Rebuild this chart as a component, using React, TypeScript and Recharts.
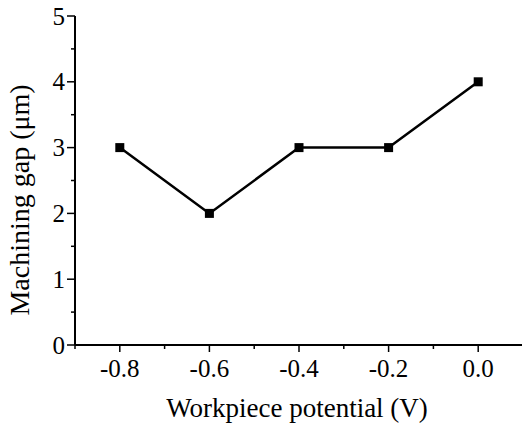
import React from "react";
import { LineChart, Line, XAxis, YAxis } from "recharts";

// values
const potentials = [-0.8, -0.6, -0.4, -0.2, 0.0];
const gaps = [3, 2, 3, 3, 4];

const xTicks = [-0.9, -0.8, -0.7, -0.6, -0.5, -0.4, -0.3, -0.2, -0.1, 0.0, 0.1];
const xMajor = [-0.8, -0.6, -0.4, -0.2, 0.0];
const yTicks = [0, 0.5, 1, 1.5, 2, 2.5, 3, 3.5, 4, 4.5, 5];
const yMajor = [0, 1, 2, 3, 4, 5];

const xTitle = "Workpiece potential (V)";
const yTitle = "Machining gap (μm)";

const data = potentials.map((p, i) => ({ potential: p, gap: gaps[i] }));

const FONT = "'Liberation Serif', 'Times New Roman', serif";
const isMajor = (v: number, list: number[]) => list.some((m) => Math.abs(m - v) < 1e-6);

// ticks are drawn by hand: bottom/left point outward, top/right point inward
const BottomTick = (props: any) => {
  const { x, y, payload } = props;
  const major = isMajor(payload.value, xMajor);
  return (
    <g>
      <line x1={x} x2={x} y1={y} y2={y + (major ? 7 : 4)} stroke="#000" strokeWidth={1.5} />
      {major && (
        <text x={x} y={y + 32} textAnchor="middle" fontFamily={FONT} fontSize={25} fill="#000">
          {payload.value.toFixed(1)}
        </text>
      )}
    </g>
  );
};

const TopTick = (props: any) => {
  const { x, y, payload } = props;
  const major = isMajor(payload.value, xMajor);
  return <line x1={x} x2={x} y1={y} y2={y + (major ? 7 : 4)} stroke="#000" strokeWidth={1.5} />;
};

const LeftTick = (props: any) => {
  const { x, y, payload } = props;
  const major = isMajor(payload.value, yMajor);
  return (
    <g>
      <line x1={x - (major ? 8 : 4)} x2={x} y1={y} y2={y} stroke="#000" strokeWidth={1.5} />
      {major && (
        <text x={x - 10} y={y + 8.5} textAnchor="end" fontFamily={FONT} fontSize={25} fill="#000">
          {payload.value}
        </text>
      )}
    </g>
  );
};

const RightTick = (props: any) => {
  const { x, y, payload } = props;
  const major = isMajor(payload.value, yMajor);
  return <line x1={x - (major ? 7 : 4)} x2={x} y1={y} y2={y} stroke="#000" strokeWidth={1.5} />;
};

const SquareDot = (props: any) => {
  const { cx, cy, index } = props;
  if (cx == null || cy == null) return <g key={index} />;
  return <rect key={index} x={cx - 4.5} y={cy - 4.5} width={9} height={9} fill="#000" />;
};

export default function App() {
  const axisLine = { stroke: "#000", strokeWidth: 2 };
  return (
    <div
      style={{
        position: "absolute",
        left: 0,
        top: 0,
        width: 522,
        height: 426,
        overflow: "hidden",
        background: "#fff",
      }}
    >
      <LineChart width={530} height={426} data={data} margin={{ top: 16, right: 0, bottom: 0, left: 0 }}>
        <XAxis
          xAxisId="b"
          dataKey="potential"
          type="number"
          domain={[-0.9, 0.1]}
          ticks={xTicks}
          interval={0}
          height={81}
          axisLine={axisLine}
          tickLine={false}
          tickSize={0}
          tickMargin={0}
          tick={<BottomTick />}
        />
        <XAxis
          xAxisId="t"
          orientation="top"
          dataKey="potential"
          type="number"
          domain={[-0.9, 0.1]}
          ticks={xTicks}
          interval={0}
          height={0}
          axisLine={axisLine}
          tickLine={false}
          tickSize={0}
          tickMargin={0}
          tick={<TopTick />}
        />
        <YAxis
          yAxisId="l"
          type="number"
          domain={[0, 5]}
          ticks={yTicks}
          interval={0}
          width={75}
          axisLine={axisLine}
          tickLine={false}
          tickSize={0}
          tickMargin={0}
          tick={<LeftTick />}
        />
        <YAxis
          yAxisId="r"
          orientation="right"
          type="number"
          domain={[0, 5]}
          ticks={yTicks}
          interval={0}
          width={7}
          axisLine={axisLine}
          tickLine={false}
          tickSize={0}
          tickMargin={0}
          tick={<RightTick />}
        />
        <Line
          xAxisId="b"
          yAxisId="l"
          type="linear"
          dataKey="gap"
          stroke="#000"
          strokeWidth={2.5}
          dot={<SquareDot />}
          activeDot={false}
          isAnimationActive={false}
        />
        <text x={297} y={417} textAnchor="middle" fontFamily={FONT} fontSize={27} fill="#000">
          {xTitle}
        </text>
        <text
          x={29}
          y={200}
          textAnchor="middle"
          fontFamily={FONT}
          fontSize={28}
          fill="#000"
          transform="rotate(-90, 29, 200)"
        >
          {yTitle}
        </text>
      </LineChart>
    </div>
  );
}
